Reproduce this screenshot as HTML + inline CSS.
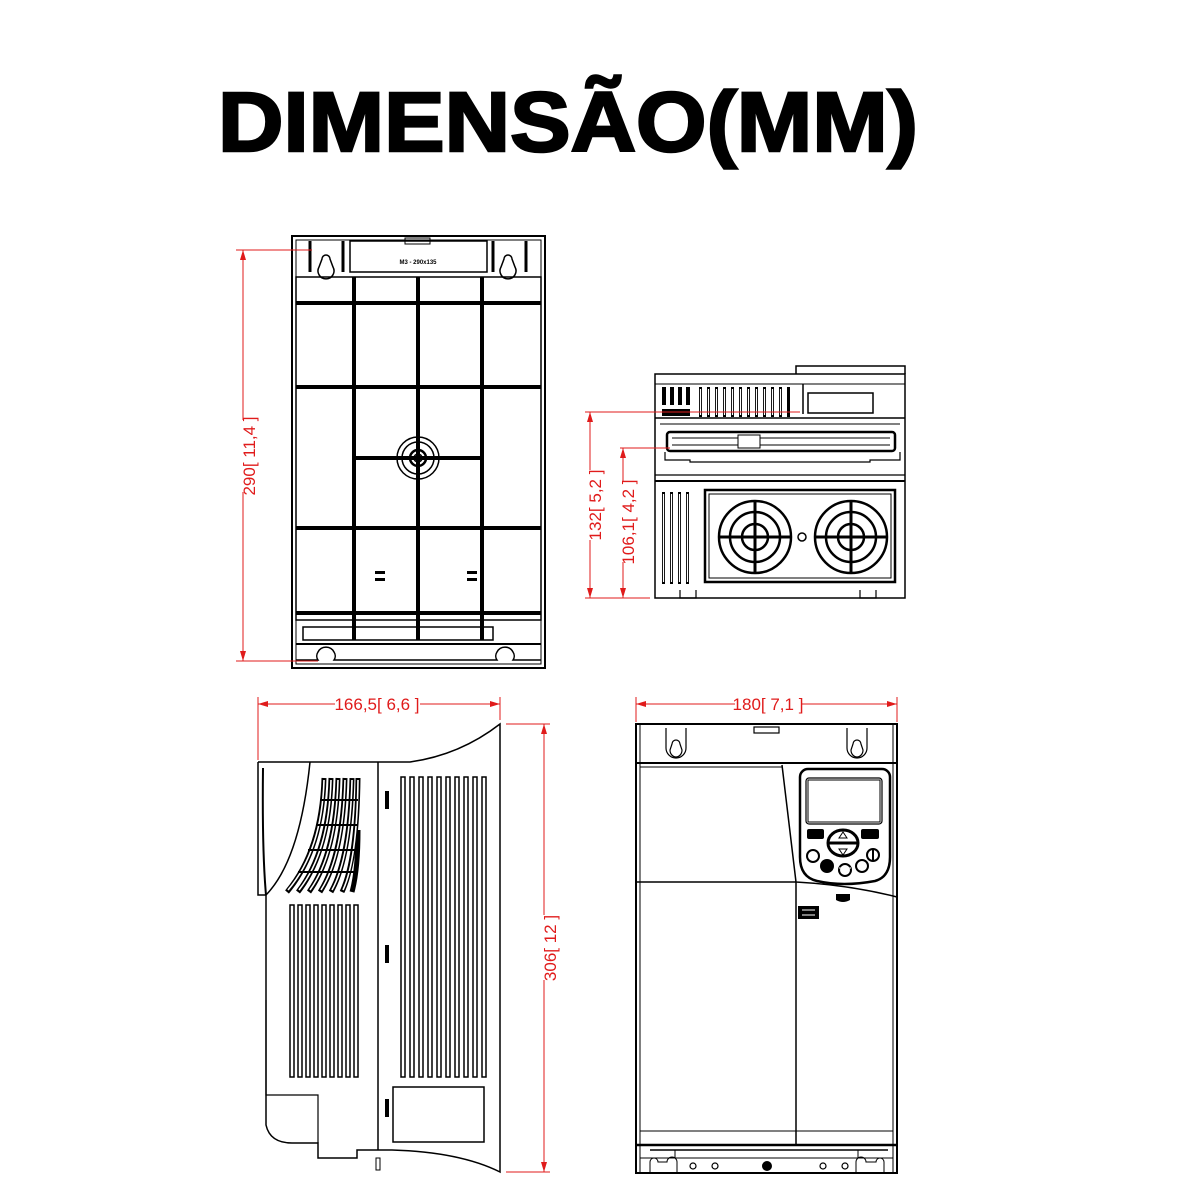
<!DOCTYPE html>
<html><head><meta charset="utf-8"><style>html,body{margin:0;padding:0;background:#fff}svg{display:block}</style></head>
<body>
<svg width="1200" height="1200" viewBox="0 0 1200 1200" xmlns="http://www.w3.org/2000/svg" font-family="Liberation Sans, sans-serif">
<rect width="1200" height="1200" fill="#fff"/>
<text x="218" y="151" font-size="84" font-weight="bold" textLength="700" lengthAdjust="spacingAndGlyphs" stroke="#000" stroke-width="2.5">DIMENSÃO(MM)</text>

<!-- ============ TOP-LEFT: rear view ============ -->
<g fill="none" stroke="#000">
<rect x="292" y="236" width="253" height="432" stroke-width="2"/>
<rect x="296" y="240" width="245" height="424" stroke-width="1"/>
<rect x="350" y="241" width="137" height="31" stroke-width="1.5"/>
<rect x="405" y="238" width="25" height="6" stroke-width="1"/>
<line x1="310" y1="241" x2="310" y2="272" stroke-width="3"/>
<line x1="343" y1="241" x2="343" y2="272" stroke-width="3"/>
<line x1="493" y1="241" x2="493" y2="272" stroke-width="3"/>
<line x1="526" y1="241" x2="526" y2="272" stroke-width="3"/>
<path d="M319 267 a8 8 0 1 0 14 0 l-3 -8 a4 4 0 1 0 -8 0 z" stroke-width="1.5"/>
<path d="M501 267 a8 8 0 1 0 14 0 l-3 -8 a4 4 0 1 0 -8 0 z" stroke-width="1.5"/>
<rect x="296" y="277" width="245" height="343" stroke-width="1.5"/>
<g stroke-width="4">
<line x1="354" y1="277" x2="354" y2="640"/>
<line x1="418" y1="277" x2="418" y2="640"/>
<line x1="482" y1="277" x2="482" y2="640"/>
<line x1="296" y1="303" x2="541" y2="303"/>
<line x1="296" y1="387" x2="541" y2="387"/>
<line x1="354" y1="458" x2="482" y2="458"/>
<line x1="296" y1="528" x2="541" y2="528"/>
<line x1="296" y1="613" x2="541" y2="613"/>
</g>
<rect x="303" y="627" width="190" height="13" stroke-width="1.5"/>
<line x1="296" y1="644" x2="541" y2="644" stroke-width="2"/>
<circle cx="418" cy="458" r="21" stroke-width="1.5"/>
<circle cx="418" cy="458" r="16" stroke-width="1.5"/>
<circle cx="418" cy="458" r="8" stroke-width="2.5"/>
<circle cx="418" cy="458" r="4" stroke-width="1.5"/>
<path d="M296 660 L318 660 a7 7 0 0 1 0 -8 a9 9 0 0 1 16 0 a7 7 0 0 1 0 8 L497 660 a7 7 0 0 1 0 -8 a9 9 0 0 1 16 0 a7 7 0 0 1 0 8 L541 660" stroke-width="1.5"/>
</g>
<g fill="#000"><rect x="375" y="571" width="10" height="3"/><rect x="375" y="578" width="10" height="3"/><rect x="467" y="571" width="10" height="3"/><rect x="467" y="578" width="10" height="3"/></g>
<text x="418" y="264" font-size="6" font-weight="bold" text-anchor="middle">M3 - 290x135</text>
<!-- dim 290 -->
<g stroke="#e01b1b" fill="none" stroke-width="1">
<line x1="236" y1="250" x2="312" y2="250"/><line x1="236" y1="661" x2="318" y2="661"/>
<line x1="243" y1="250" x2="243" y2="420"/><line x1="243" y1="492" x2="243" y2="661"/>
</g>
<g fill="#e01b1b"><path d="M243 250 l-3 10 h6z"/><path d="M243 661 l-3 -10 h6z"/></g>
<text transform="translate(255 456) rotate(-90)" font-size="17" fill="#e01b1b" text-anchor="middle">290[ 11,4 ]</text>

<!-- ============ TOP-RIGHT: top view ============ -->
<g fill="none" stroke="#000">
<rect x="655" y="374" width="250" height="224" stroke-width="1.5"/>
<path d="M796 374 L796 366 L905 366 L905 374" stroke-width="1.5"/>
<line x1="655" y1="384" x2="905" y2="384" stroke-width="1"/>
<rect x="808" y="393" width="65" height="20" stroke-width="1.5"/>
<line x1="803" y1="384" x2="803" y2="414" stroke-width="1.5"/>
<line x1="655" y1="418" x2="905" y2="418" stroke-width="1.5"/>
<line x1="660" y1="424" x2="900" y2="424" stroke-width="1"/>
<rect x="667" y="432" width="228" height="19" rx="3" stroke-width="2.5"/>
<path d="M665 452 L665 460 L690 460 L690 462 L870 462 L870 460 L900 460 L900 452" stroke-width="1.2"/>
<line x1="655" y1="475" x2="905" y2="475" stroke-width="1.2"/>
<line x1="655" y1="481" x2="905" y2="481" stroke-width="2"/>
<rect x="705" y="490" width="190" height="92" stroke-width="2.5"/>
<rect x="709" y="494" width="182" height="84" stroke-width="1"/>
<g stroke-width="2.5">
<circle cx="755" cy="537" r="36"/><circle cx="755" cy="537" r="25"/><circle cx="755" cy="537" r="13"/>
<circle cx="851" cy="537" r="36"/><circle cx="851" cy="537" r="25"/><circle cx="851" cy="537" r="13"/>
</g>
<g stroke-width="3">
<line x1="719" y1="537" x2="791" y2="537"/><line x1="755" y1="501" x2="755" y2="573"/>
<line x1="815" y1="537" x2="887" y2="537"/><line x1="851" y1="501" x2="851" y2="573"/>
</g>
<circle cx="802" cy="537" r="4" stroke-width="1.5"/>
<path d="M680 590 v8 h16 v-8 M860 590 v8 h16 v-8" stroke-width="1.2"/>
</g>
<g fill="#000">
<rect x="662" y="387" width="4" height="18"/><rect x="670" y="387" width="4" height="18"/><rect x="678" y="387" width="4" height="18"/><rect x="686" y="387" width="4" height="18"/>
<rect x="699" y="387" width="3" height="30"/><rect x="707" y="387" width="3" height="30"/><rect x="715" y="387" width="3" height="30"/><rect x="723" y="387" width="3" height="30"/><rect x="731" y="387" width="3" height="30"/><rect x="739" y="387" width="3" height="30"/><rect x="747" y="387" width="3" height="30"/><rect x="755" y="387" width="3" height="30"/><rect x="763" y="387" width="3" height="30"/><rect x="771" y="387" width="3" height="30"/><rect x="779" y="387" width="3" height="30"/><rect x="787" y="387" width="3" height="30"/>
<rect x="662" y="409" width="28" height="7"/>
<rect x="662" y="492" width="3" height="92"/><rect x="670" y="492" width="3" height="92"/><rect x="678" y="492" width="3" height="92"/><rect x="686" y="492" width="3" height="92"/>
</g>
<g stroke="#fff" stroke-width="1.2">
<line x1="663.5" y1="494" x2="663.5" y2="582"/><line x1="671.5" y1="494" x2="671.5" y2="582"/><line x1="679.5" y1="494" x2="679.5" y2="582"/><line x1="687.5" y1="494" x2="687.5" y2="582"/>
<line x1="700.5" y1="389" x2="700.5" y2="415"/><line x1="708.5" y1="389" x2="708.5" y2="415"/><line x1="716.5" y1="389" x2="716.5" y2="415"/><line x1="724.5" y1="389" x2="724.5" y2="415"/><line x1="732.5" y1="389" x2="732.5" y2="415"/><line x1="740.5" y1="389" x2="740.5" y2="415"/><line x1="748.5" y1="389" x2="748.5" y2="415"/><line x1="756.5" y1="389" x2="756.5" y2="415"/><line x1="764.5" y1="389" x2="764.5" y2="415"/><line x1="772.5" y1="389" x2="772.5" y2="415"/><line x1="780.5" y1="389" x2="780.5" y2="415"/>
</g>
<g stroke="#000" stroke-width="1" fill="none"><line x1="672" y1="438" x2="890" y2="438"/><line x1="672" y1="445" x2="890" y2="445"/></g>
<rect x="738" y="435" width="22" height="13" fill="#fff" stroke="#000"/>
<!-- dims -->
<g stroke="#e01b1b" fill="none" stroke-width="1">
<line x1="585" y1="412" x2="800" y2="412"/><line x1="620" y1="448" x2="670" y2="448"/>
<line x1="585" y1="598" x2="650" y2="598"/>
<line x1="590" y1="412" x2="590" y2="470"/><line x1="590" y1="540" x2="590" y2="598"/>
<line x1="623" y1="448" x2="623" y2="482"/><line x1="623" y1="562" x2="623" y2="598"/>
</g>
<g fill="#e01b1b"><path d="M590 412 l-3 10 h6z"/><path d="M590 598 l-3 -10 h6z"/><path d="M623 448 l-3 10 h6z"/><path d="M623 598 l-3 -10 h6z"/></g>
<text transform="translate(601 505) rotate(-90)" font-size="17" fill="#e01b1b" text-anchor="middle">132[ 5,2 ]</text>
<text transform="translate(634 522) rotate(-90)" font-size="17" fill="#e01b1b" text-anchor="middle">106,1[ 4,2 ]</text>

<!-- ============ BOTTOM-LEFT: side view ============ -->
<g fill="none" stroke="#000" stroke-width="1.5">
<path d="M258 762 L410 762 Q460 755 500 724 L500 1172 Q460 1152 392 1150 L380 1150"/>
<path d="M258 762 L258 895 L266 895 L266 1125 Q270 1143 292 1143 L318 1143 L318 1158 L357 1158 L357 1150 L380 1150"/>
<path d="M310 762 Q300 860 266 895"/>
<path d="M263 768 Q262 850 266 895" stroke-width="2"/>
<path d="M266 1000 L266 1095 L318 1095 L318 1143" stroke-width="1.2"/>
<line x1="378" y1="762" x2="378" y2="1150"/>
<rect x="393" y="1087" width="91" height="55"/>
<rect x="376" y="1158" width="4" height="12" stroke-width="1"/>
</g>
<g fill="#000">
<rect x="385" y="791" width="4" height="18"/><rect x="385" y="945" width="4" height="18"/><rect x="385" y="1099" width="4" height="18"/>
</g>
<!-- right slots -->
<g fill="none" stroke="#000" stroke-width="1.5">
<rect x="401" y="777" width="4" height="300"/><rect x="410" y="777" width="4" height="300"/><rect x="419" y="777" width="4" height="300"/><rect x="428" y="777" width="4" height="300"/><rect x="437" y="777" width="4" height="300"/><rect x="446" y="777" width="4" height="300"/><rect x="455" y="777" width="4" height="300"/><rect x="464" y="777" width="4" height="300"/><rect x="473" y="777" width="4" height="300"/><rect x="482" y="777" width="4" height="300"/>
<rect x="290" y="905" width="4" height="172"/><rect x="298" y="905" width="4" height="172"/><rect x="306" y="905" width="4" height="172"/><rect x="314" y="905" width="4" height="172"/><rect x="322" y="905" width="4" height="172"/><rect x="330" y="905" width="4" height="172"/><rect x="338" y="905" width="4" height="172"/><rect x="346" y="905" width="4" height="172"/><rect x="354" y="905" width="4" height="172"/>
</g>
<g fill="none" stroke="#000" stroke-width="5">
<path d="M324 778 Q322 850 287 892"/><path d="M331 778 Q329 852 298 892"/><path d="M338 778 Q336 854 309 892"/><path d="M345 778 Q343 856 320 892"/><path d="M352 778 Q350 858 331 892"/><path d="M358 778 Q357 860 342 892"/><path d="M358 830 Q358 870 352 892"/>
</g>
<g fill="none" stroke="#fff" stroke-width="1.6">
<path d="M324 780 Q322 850 288 890"/><path d="M331 780 Q329 852 299 890"/><path d="M338 780 Q336 854 310 890"/><path d="M345 780 Q343 856 321 890"/><path d="M352 780 Q350 858 332 890"/><path d="M358 780 Q357 860 343 890"/>
</g>
<g stroke="#000" stroke-width="2"><line x1="320" y1="800" x2="358" y2="800"/><line x1="316" y1="825" x2="358" y2="825"/><line x1="308" y1="850" x2="358" y2="850"/><line x1="298" y1="872" x2="356" y2="872"/></g>
<!-- dims -->
<g stroke="#e01b1b" fill="none" stroke-width="1">
<line x1="258" y1="697" x2="258" y2="760"/><line x1="500" y1="697" x2="500" y2="720"/>
<line x1="258" y1="704" x2="335" y2="704"/><line x1="420" y1="704" x2="500" y2="704"/>
<line x1="506" y1="724" x2="550" y2="724"/><line x1="506" y1="1172" x2="550" y2="1172"/>
<line x1="544" y1="724" x2="544" y2="915"/><line x1="544" y1="980" x2="544" y2="1172"/>
</g>
<g fill="#e01b1b"><path d="M258 704 l10 -3 v6z"/><path d="M500 704 l-10 -3 v6z"/><path d="M544 724 l-3 10 h6z"/><path d="M544 1172 l-3 -10 h6z"/></g>
<text x="377" y="710" font-size="17" fill="#e01b1b" text-anchor="middle">166,5[ 6,6 ]</text>
<text transform="translate(556 948) rotate(-90)" font-size="17" fill="#e01b1b" text-anchor="middle">306[ 12 ]</text>

<!-- ============ BOTTOM-RIGHT: front view ============ -->
<g fill="none" stroke="#000">
<rect x="636" y="724" width="261" height="449" stroke-width="2"/>
<line x1="640" y1="724" x2="640" y2="1173" stroke-width="1"/><line x1="893" y1="724" x2="893" y2="1173" stroke-width="1"/>
<line x1="636" y1="763" x2="897" y2="763" stroke-width="2"/>
<rect x="754" y="727" width="25" height="6" stroke-width="1.2"/>
<path d="M666 728 v20 a9 9 0 1 0 20 0 v-20" stroke-width="1.2"/>
<path d="M847 728 v20 a9 9 0 1 0 20 0 v-20" stroke-width="1.2"/>
<path d="M670 750 a6 7 0 1 0 12 0 l-2 -6 a4 4 0 0 0 -8 0z" stroke-width="1.2"/>
<path d="M851 750 a6 7 0 1 0 12 0 l-2 -6 a4 4 0 0 0 -8 0z" stroke-width="1.2"/>
<line x1="640" y1="767" x2="782" y2="767" stroke-width="1"/>
<path d="M782 765 Q790 830 796 882 Q850 885 897 897" stroke-width="1.5"/>
<line x1="636" y1="882" x2="796" y2="882" stroke-width="1.5"/>
<line x1="796" y1="882" x2="796" y2="1145" stroke-width="1.5"/>
<line x1="640" y1="1131" x2="893" y2="1131" stroke-width="1"/>
<line x1="636" y1="1145" x2="897" y2="1145" stroke-width="2.5"/>
<line x1="650" y1="1150" x2="888" y2="1150" stroke-width="1.5"/>
<path d="M640 1150 V1158 H675 V1150 M858 1150 V1158 H893" stroke-width="1"/>
<line x1="675" y1="1158" x2="858" y2="1158" stroke-width="1"/>
<path d="M650 1173 V1162 a4 4 0 0 1 8 0 L667 1162 a5 5 0 0 1 10 0 L677 1173 M856 1173 V1162 a5 5 0 0 1 10 0 L876 1162 a4 4 0 0 1 8 0 V1173" stroke-width="1"/>
<circle cx="693" cy="1166" r="3" stroke-width="1.2"/><circle cx="715" cy="1166" r="3" stroke-width="1.2"/>
<circle cx="823" cy="1166" r="3" stroke-width="1.2"/><circle cx="845" cy="1166" r="3" stroke-width="1.2"/>
<!-- keypad -->
<path d="M800 777 a8 8 0 0 1 8 -8 h74 a8 8 0 0 1 8 8 v80 q0 20 -15 24 q-32 6 -58 0 q-17 -4 -17 -24 z" stroke-width="2.5"/>
<rect x="806" y="778" width="76" height="46" rx="3" stroke-width="1.2"/>
<rect x="808" y="780" width="72" height="42" stroke-width="1"/>
<ellipse cx="843" cy="843" rx="15" ry="13" stroke-width="3"/>
<line x1="829" y1="843" x2="857" y2="843" stroke-width="3"/>
<circle cx="813" cy="856" r="6" stroke-width="2"/>
<circle cx="873" cy="855" r="6" stroke-width="2"/>
<circle cx="862" cy="866" r="6" stroke-width="2"/>
<circle cx="845" cy="870" r="6" stroke-width="2"/>
</g>
<g fill="#000">
<rect x="807" y="829" width="17" height="10" rx="2"/>
<rect x="861" y="829" width="18" height="10" rx="2"/>
<circle cx="827" cy="866" r="7"/>
<rect x="798" y="906" width="21" height="13"/>
<path d="M836 894 h14 v6 q-7 4 -14 0z"/>
<rect x="872" y="850" width="2" height="10" fill="#000"/>
</g>
<g fill="none" stroke="#000" stroke-width="1"><path d="M843 832 l-4 6 h8z"/><path d="M843 855 l-4 -6 h8z"/></g>
<g stroke="#fff" stroke-width="1"><line x1="802" y1="910" x2="815" y2="910"/><line x1="802" y1="915" x2="815" y2="915"/><line x1="839" y1="868" x2="851" y2="868"/></g>
<circle cx="767" cy="1166" r="5" fill="#000"/>
<!-- dim 180 -->
<g stroke="#e01b1b" fill="none" stroke-width="1">
<line x1="636" y1="697" x2="636" y2="722"/><line x1="897" y1="697" x2="897" y2="722"/>
<line x1="636" y1="704" x2="735" y2="704"/><line x1="802" y1="704" x2="897" y2="704"/>
</g>
<g fill="#e01b1b"><path d="M636 704 l10 -3 v6z"/><path d="M897 704 l-10 -3 v6z"/></g>
<text x="768" y="710" font-size="17" fill="#e01b1b" text-anchor="middle">180[ 7,1 ]</text>
</svg>
</body></html>
